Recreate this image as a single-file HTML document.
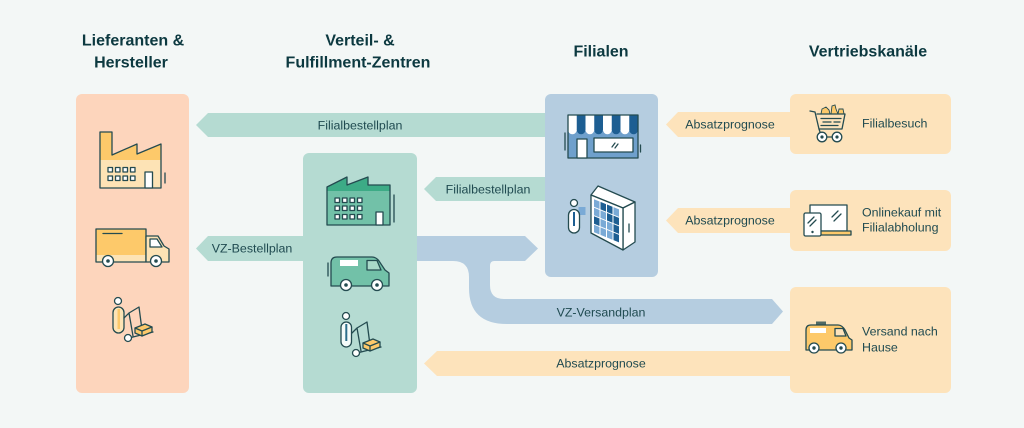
<!DOCTYPE html>
<html>
<head>
<meta charset="utf-8">
<style>
html,body{margin:0;padding:0;background:#f3f7f6;}
svg{display:block;}
text{font-family:"Liberation Sans",Arial,sans-serif;}
.h{font-size:16px;font-weight:bold;fill:#0c3940;text-anchor:middle;}
.l{font-size:12.4px;fill:#1f4a50;}
.c{text-anchor:middle;}
.s{stroke:#244b50;stroke-width:1.3;stroke-linejoin:round;stroke-linecap:round;}
</style>
</head>
<body>
<svg width="1024" height="428" viewBox="0 0 1024 428" xmlns="http://www.w3.org/2000/svg">
<rect x="0" y="0" width="1024" height="428" fill="#f3f7f6"/>

<!-- headings -->
<text class="h" x="133" y="45.5">Lieferanten &amp;</text>
<text class="h" x="131" y="67.5">Hersteller</text>
<text class="h" x="360" y="45.5">Verteil- &amp;</text>
<text class="h" x="358" y="67.5">Fulfillment-Zentren</text>
<text class="h" x="601" y="56.5">Filialen</text>
<text class="h" x="868" y="56.5">Vertriebskanäle</text>

<!-- arrows (behind boxes) -->
<polygon points="196,125 208,113 560,113 560,137 208,137" fill="#b5dbd2"/>
<polygon points="424,189 436,177 560,177 560,201 436,201" fill="#b5dbd2"/>
<polygon points="196,248.5 208,236 320,236 320,261 208,261" fill="#b5dbd2"/>
<polygon points="666,124.5 678,112 800,112 800,137 678,137" fill="#fde3bb"/>
<polygon points="666,220.5 678,208 800,208 800,233 678,233" fill="#fde3bb"/>
<polygon points="424,363.5 437,351 800,351 800,376 437,376" fill="#fde3bb"/>
<path d="M400,236 L525,236 L538,248.5 L525,261 L494,261 Q490,261 490,266 L490,285 Q490,299 504,299 L772,299 L783,311.5 L772,324 L507,324 Q469,324 469,288 L469,277 Q469,261 453,261 L400,261 Z" fill="#b5cde0"/>

<!-- boxes -->
<rect x="76" y="94" width="113" height="299" rx="6" fill="#fdd5bc"/>
<rect x="303" y="153" width="114" height="240" rx="6" fill="#b5dbd2"/>
<rect x="545" y="94" width="113" height="183" rx="6" fill="#b5cde0"/>
<rect x="790" y="94" width="161" height="60" rx="6" fill="#fde3bb"/>
<rect x="790" y="190" width="161" height="61" rx="6" fill="#fde3bb"/>
<rect x="790" y="287" width="161" height="106" rx="6" fill="#fde3bb"/>

<!-- arrow labels -->
<text class="l c" x="360" y="129.5">Filialbestellplan</text>
<text class="l c" x="488" y="193.5">Filialbestellplan</text>
<text class="l c" x="252" y="252.5">VZ-Bestellplan</text>
<text class="l c" x="601" y="316.5">VZ-Versandplan</text>
<text class="l c" x="601" y="367.5">Absatzprognose</text>
<text class="l c" x="730" y="128.5">Absatzprognose</text>
<text class="l c" x="730" y="224.5">Absatzprognose</text>

<!-- channel labels -->
<text class="l" x="862" y="127.5">Filialbesuch</text>
<text class="l" x="862" y="216.5">Onlinekauf mit</text>
<text class="l" x="862" y="231.5">Filialabholung</text>
<text class="l" x="862" y="335.5">Versand nach</text>
<text class="l" x="862" y="351.5">Hause</text>

<!-- Left factory -->
<polygon points="100,132 112,132 112,155 137,144 137,154 161,144 161,160 100,160" fill="#fdc96a"/>
<rect x="100" y="160" width="61" height="28" fill="#fde3b5"/>
<path class="s" d="M100,188 V132 H112 V155 L137,144 V154 L161,144 V188 Z" fill="none"/>
<g class="s" fill="#fff" stroke-width="1">
<rect x="108" y="167.5" width="4.5" height="4.5"/><rect x="115.5" y="167.5" width="4.5" height="4.5"/><rect x="123" y="167.5" width="4.5" height="4.5"/><rect x="130.5" y="167.5" width="4.5" height="4.5"/>
<rect x="108" y="176" width="4.5" height="4.5"/><rect x="115.5" y="176" width="4.5" height="4.5"/><rect x="123" y="176" width="4.5" height="4.5"/><rect x="130.5" y="176" width="4.5" height="4.5"/>
</g>
<rect class="s" x="145" y="172" width="7.5" height="16" fill="#fff"/>
<line class="s" x1="165" y1="173" x2="165" y2="183"/>

<!-- Left truck -->
<rect x="96" y="229" width="50" height="26" fill="#fdc96a"/>
<rect x="96" y="255" width="50" height="7" fill="#fde3b5"/>
<rect class="s" x="96" y="229" width="50" height="33" fill="none"/>
<line class="s" x1="103" y1="233.5" x2="122" y2="233.5"/>
<path class="s" d="M146,236 H158 L164,246 L169,249 V262 H146 Z" fill="#fde3b5"/>
<path class="s" d="M150,239 H157 L162,247 H150 Z" fill="#fff" stroke-width="1"/>
<circle class="s" cx="108" cy="261" r="5.5" fill="#fff"/><circle cx="108" cy="261" r="1.8" fill="#244b50"/>
<circle class="s" cx="156" cy="261" r="5.5" fill="#fff"/><circle cx="156" cy="261" r="1.8" fill="#244b50"/>

<!-- Left person with trolley -->
<g>
<circle class="s" cx="118" cy="301" r="3.5" fill="#fff"/>
<rect class="s" x="113" y="307" width="11" height="26" rx="5.5" fill="#fde3b5"/>
<rect x="117.5" y="309" width="2.5" height="20" fill="#fdc96a"/>
<path class="s" d="M124,318 L129,313 L139,307 L142,330 M129,313 L133,336" fill="none" stroke-width="1"/>
<path class="s" d="M129,338 L153,332" fill="none"/>
<polygon class="s" points="135,328 145,324 152,327 152,332 142,336 135,333" fill="#fdc96a" stroke-width="1"/>
<path class="s" d="M135,328 L142,331 L152,327 M142,331 V336" fill="none" stroke-width="0.8"/>
<circle class="s" cx="128" cy="338" r="3.5" fill="#fff" stroke-width="1"/>
</g>

<!-- VZ factory -->
<path d="M327,225 V187 L347,177 V185 L368,177 V185 H390 V225 Z" fill="#72c1a8"/>
<polygon points="327,187 347,177 347,185 368,177 368,185 390,185 390,191 327,191" fill="#3dab86"/>
<path class="s" d="M327,225 V187 L347,177 V185 L368,177 V185 H390 V225 Z" fill="none"/>
<g class="s" fill="#fff" stroke-width="1">
<rect x="335" y="198" width="4.5" height="4.5"/><rect x="342.5" y="198" width="4.5" height="4.5"/><rect x="350" y="198" width="4.5" height="4.5"/><rect x="357.5" y="198" width="4.5" height="4.5"/>
<rect x="335" y="206" width="4.5" height="4.5"/><rect x="342.5" y="206" width="4.5" height="4.5"/><rect x="350" y="206" width="4.5" height="4.5"/><rect x="357.5" y="206" width="4.5" height="4.5"/>
<rect x="335" y="214.5" width="4.5" height="4.5"/><rect x="342.5" y="214.5" width="4.5" height="4.5"/><rect x="350" y="214.5" width="4.5" height="4.5"/><rect x="357.5" y="214.5" width="4.5" height="4.5"/>
</g>
<rect class="s" x="376" y="212" width="7" height="13" fill="#fff"/>
<line class="s" x1="394" y1="195" x2="394" y2="222"/>

<!-- VZ van -->
<path class="s" d="M331,263 Q331,257 337,257 H372 Q376,257 379,261 L385,270 L389,273 V286 H331 Z" fill="#72c1a8"/>
<rect x="340" y="260" width="18" height="6" fill="#fff"/>
<path class="s" d="M367,260.5 H377 L381,270 H367 Z" fill="#a9d9c9" stroke-width="1"/>
<line class="s" x1="328" y1="263" x2="328" y2="276"/>
<circle class="s" cx="346" cy="285" r="5.5" fill="#fff"/><circle cx="346" cy="285" r="1.8" fill="#244b50"/>
<circle class="s" cx="377" cy="285" r="5.5" fill="#fff"/><circle cx="377" cy="285" r="1.8" fill="#244b50"/>

<!-- VZ person with trolley -->
<g transform="translate(228,15)">
<circle class="s" cx="118" cy="301" r="3.5" fill="#fff"/>
<rect class="s" x="113" y="307" width="10.5" height="25" rx="5.2" fill="#f4fbf9"/>
<rect x="117.3" y="309" width="2" height="17" fill="#2c6e8a"/>
<path class="s" d="M124,318 L129,313 L139,307 L142,330 M129,313 L133,336" fill="none" stroke-width="1"/>
<path class="s" d="M129,338 L153,332" fill="none"/>
<polygon class="s" points="135,328 145,324 152,327 152,332 142,336 135,333" fill="#fdc96a" stroke-width="1"/>
<path class="s" d="M135,328 L142,331 L152,327 M142,331 V336" fill="none" stroke-width="0.8"/>
<circle class="s" cx="128" cy="338" r="3.5" fill="#fff" stroke-width="1"/>
</g>

<!-- Store -->
<rect x="568" y="131" width="70" height="27" fill="#6fa0cc"/>
<g>
<rect x="568" y="115" width="70" height="15" fill="#fff"/>
<rect x="576.75" y="115" width="8.75" height="15" fill="#1d5e92"/>
<rect x="594.25" y="115" width="8.75" height="15" fill="#1d5e92"/>
<rect x="611.75" y="115" width="8.75" height="15" fill="#1d5e92"/>
<rect x="629.25" y="115" width="8.75" height="15" fill="#1d5e92"/>
<circle cx="572.4" cy="130" r="4.3" fill="#fff"/><circle cx="581.1" cy="130" r="4.3" fill="#1d5e92"/>
<circle cx="589.9" cy="130" r="4.3" fill="#fff"/><circle cx="598.6" cy="130" r="4.3" fill="#1d5e92"/>
<circle cx="607.4" cy="130" r="4.3" fill="#fff"/><circle cx="616.1" cy="130" r="4.3" fill="#1d5e92"/>
<circle cx="624.9" cy="130" r="4.3" fill="#fff"/><circle cx="633.6" cy="130" r="4.3" fill="#1d5e92"/>
</g>
<rect class="s" x="568" y="115" width="70" height="43" fill="none"/>
<rect class="s" x="577" y="139" width="10" height="19" fill="#fff" stroke-width="1"/>
<rect class="s" x="594" y="138" width="39" height="14" fill="#fff"/>
<path class="s" d="M612,147 L615,143 M615,148 L618,144" fill="none" stroke-width="1"/>
<line class="s" x1="565" y1="133" x2="565" y2="150"/>
<line class="s" x1="640.5" y1="145" x2="640.5" y2="152"/>

<!-- Locker -->
<polygon class="s" points="591,195 598,186 635,202 623,208" fill="#fff"/>
<polygon class="s" points="623,208 635,202 635,242 623,250" fill="#fff"/>
<polygon class="s" points="591,195 623,208 623,250 591,233" fill="#fff"/>
<line class="s" x1="629" y1="224" x2="629" y2="232" stroke-width="1"/>
<g transform="matrix(1,0.406,0,1,591,195)">
<rect x="3" y="3" width="5.5" height="7.5" fill="#7aaad6"/><rect x="9.5" y="3" width="5.5" height="7.5" fill="#1d5e92"/><rect x="16" y="3" width="5.5" height="7.5" fill="#1d5e92"/><rect x="22.5" y="3" width="5.5" height="7.5" fill="#7aaad6"/>
<rect x="3" y="11.5" width="5.5" height="7.5" fill="#7aaad6"/><rect x="9.5" y="11.5" width="5.5" height="7.5" fill="#7aaad6"/><rect x="16" y="11.5" width="5.5" height="7.5" fill="#1d5e92"/><rect x="22.5" y="11.5" width="5.5" height="7.5" fill="#1d5e92"/>
<rect x="3" y="20" width="5.5" height="7.5" fill="#1d5e92"/><rect x="9.5" y="20" width="5.5" height="7.5" fill="#7aaad6"/><rect x="16" y="20" width="5.5" height="7.5" fill="#7aaad6"/><rect x="22.5" y="20" width="5.5" height="7.5" fill="#1d5e92"/>
<rect x="3" y="28.5" width="5.5" height="7.5" fill="#7aaad6"/><rect x="9.5" y="28.5" width="5.5" height="7.5" fill="#7aaad6"/><rect x="16" y="28.5" width="5.5" height="7.5" fill="#7aaad6"/><rect x="22.5" y="28.5" width="5.5" height="7.5" fill="#1d5e92"/>
</g>
<rect x="578.5" y="207" width="7" height="8" fill="#7aaad6"/>
<circle class="s" cx="574" cy="203" r="3.5" fill="#fff"/>
<rect class="s" x="568.5" y="209.5" width="11" height="23.5" rx="5.5" fill="#fff"/>
<rect x="573" y="212" width="2" height="14" fill="#1d5e92"/>

<!-- Cart -->
<path d="M821,114 L822,109 L826,107 L829,110 L830,114 Z M831,114 L832,106 L835,105 L836,109 L838,114 Z M838,114 L839,109 L843,109 L844,114 Z" fill="#fdc96a" stroke="#244b50" stroke-width="0.9"/>
<path class="s" d="M810,111 L815,112 L819,129 L842,129 L845,114 L817,114" fill="#fde3bb"/>
<path class="s" d="M821,118.5 H841 M823,122 H831 M834,122 H840 M821,125.5 H838" fill="none" stroke-width="1"/>
<path class="s" d="M819,129 L820,132" fill="none" stroke-width="1"/>
<line class="s" x1="827" y1="137" x2="832" y2="137" stroke-width="1"/>
<circle class="s" cx="822" cy="137" r="4.8" fill="#fff"/><circle cx="822" cy="137" r="1.6" fill="#244b50"/>
<circle class="s" cx="837" cy="137" r="4.8" fill="#fff"/><circle cx="837" cy="137" r="1.6" fill="#244b50"/>

<!-- Laptop & tablet -->
<rect class="s" x="810" y="205" width="37" height="26" fill="#fff"/>
<path class="s" d="M832,217 L838,211 M834,221 L841,214" fill="none" stroke-width="1"/>
<rect class="s" x="812" y="231" width="39" height="4" fill="#fdc96a" stroke-width="1"/>
<rect class="s" x="804" y="213" width="17" height="23" rx="1.5" fill="#fff"/>
<path class="s" d="M808,223 L814,217 M810,226 L816,220" fill="none" stroke-width="1"/>
<circle cx="812.5" cy="232" r="1.2" fill="#244b50"/>

<!-- Yellow van -->
<rect x="816" y="321.5" width="10" height="3" fill="#244b50" opacity="0.8"/>
<path class="s" d="M806,330 Q806,325 811,325 H838 Q842,325 845,330 L849,338 L852,340 V350 H806 Z" fill="#fdc96a"/>
<rect x="810" y="328" width="16" height="5" fill="#fff"/>
<path class="s" d="M835,328.5 H843 L846,336 H835 Z" fill="#fde3bb" stroke-width="1"/>
<circle class="s" cx="814" cy="348" r="5" fill="#fff"/><circle cx="814" cy="348" r="1.7" fill="#244b50"/>
<circle class="s" cx="841" cy="348" r="5" fill="#fff"/><circle cx="841" cy="348" r="1.7" fill="#244b50"/>
</svg>
</body>
</html>
